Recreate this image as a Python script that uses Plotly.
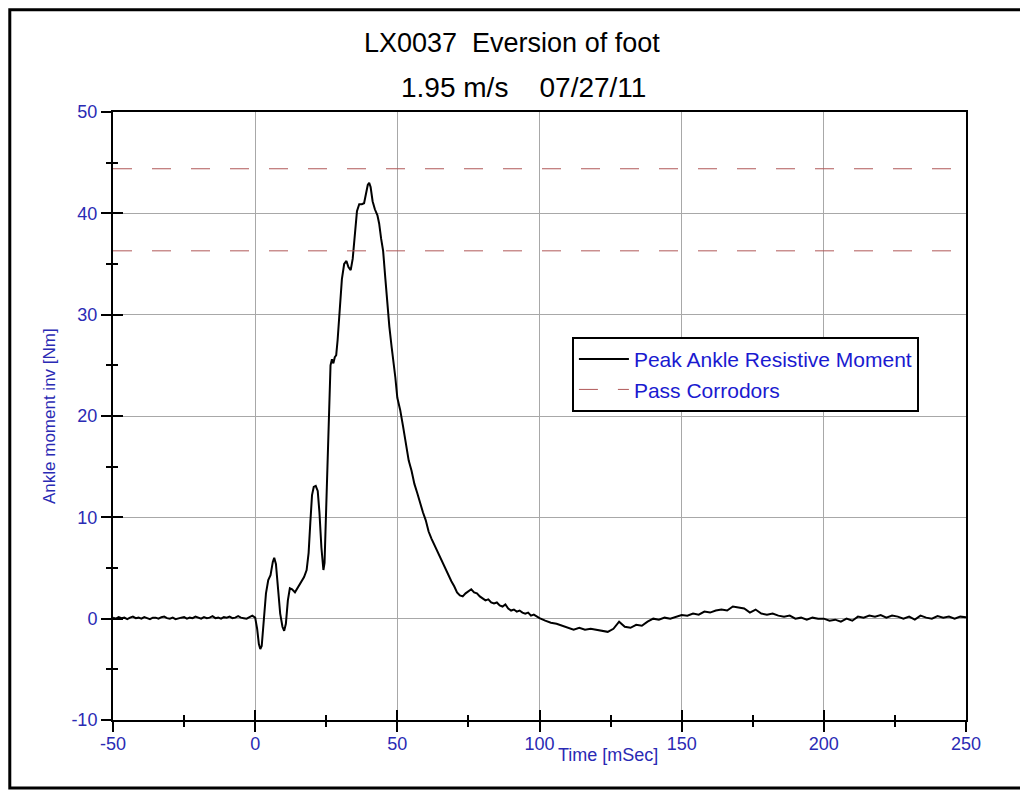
import plotly.graph_objects as go

# time axis [ms] and ankle moment [Nm]
pre_t = [-50, -49, -48, -47, -46, -45, -44, -43, -42, -41, -40, -39, -38, -37, -36, -35, -34,
         -33, -32, -31, -30, -29, -28, -27, -26, -25, -24, -23, -22, -21, -20, -19, -18, -17,
         -16, -15, -14, -13, -12, -11, -10, -9, -8, -7, -6, -5, -4, -3, -2, -1, 0]
pre_y = [0.1, 0.0, 0.15, 0.05, 0.1, -0.05, 0.1, 0.2, 0.05, 0.1, 0.0, 0.15, 0.05, -0.05, 0.1,
         0.1, 0.0, 0.15, 0.2, 0.05, 0.0, 0.1, -0.05, 0.05, 0.1, 0.15, 0.0, 0.1, 0.05, 0.2, 0.1,
         0.0, 0.15, 0.05, 0.1, 0.25, 0.05, 0.1, 0.0, 0.15, 0.1, 0.2, 0.05, 0.1, 0.25, 0.1, 0.05,
         0.0, 0.15, 0.3, 0.1]

impact_t = [0.7, 1.3, 1.8, 2.3, 3.0, 3.8, 4.6, 5.4, 6.2, 6.7, 7.3, 8.0, 8.8, 9.6, 10.2, 10.8,
            11.5, 12.2, 13.0, 14.0, 15.0, 16.2, 17.2, 18.1, 18.8, 19.4, 20.0, 20.6, 21.3, 22.0,
            22.6, 23.3, 24.0, 24.4, 25.0, 25.5, 26.0, 26.5, 27.0, 27.5, 28.0, 28.5, 29.0, 29.8,
            30.5, 31.3, 32.1, 32.8, 33.6, 34.3, 35.0, 35.8, 36.6, 37.5, 38.3, 39.0, 39.6, 40.1,
            40.6, 41.3, 42.1, 43.0, 43.6, 44.3, 45.0, 45.8, 46.5, 47.2, 48.0, 48.6, 49.3, 50.0]
impact_y = [-1.0, -2.5, -3.0, -2.7, -0.5, 2.5, 3.8, 4.3, 5.6, 6.0, 5.4, 3.0, 0.5, -0.8, -1.2,
            -0.5, 1.8, 3.0, 2.9, 2.6, 3.1, 3.6, 4.1, 4.8, 6.5, 9.5, 12.2, 13.0, 13.1, 12.6, 10.5,
            7.0, 4.8, 5.5, 11.0, 17.0, 21.5, 25.0, 25.6, 25.2, 25.8, 26.0, 27.5, 30.5, 33.5,
            35.0, 35.3, 34.7, 34.4, 35.5, 38.0, 40.2, 40.9, 40.9, 41.0, 42.2, 42.8, 43.0, 42.6,
            41.2, 40.4, 39.8, 39.0, 37.5, 36.3, 33.5, 31.0, 28.8, 26.8, 25.6, 23.8, 21.8]

decay_t = [51, 52, 53, 54, 55, 56, 57, 58, 59, 60, 61, 62, 63, 64, 65, 66, 67, 68, 69, 70, 71,
           72, 73, 74, 75, 76, 77, 78, 79, 80, 81, 82, 83, 84, 85, 86, 87, 88, 89, 90, 91, 92,
           93, 94, 95, 96, 97, 98, 99, 100]
decay_y = [20.6, 19.0, 17.3, 15.6, 14.6, 13.3, 12.4, 11.4, 10.5, 9.7, 8.6, 7.9, 7.3, 6.6, 6.0,
           5.5, 4.8, 4.3, 3.7, 3.2, 2.6, 2.3, 2.2, 2.5, 2.7, 2.9, 2.6, 2.5, 2.2, 2.0, 1.8, 1.9,
           1.6, 1.5, 1.6, 1.3, 1.2, 1.4, 1.0, 0.8, 0.9, 0.7, 0.8, 0.6, 0.5, 0.6, 0.3, 0.4, 0.2,
           0.05]

tail_t = [102, 104, 106, 108, 110, 112, 114, 116, 118, 120, 122, 124, 126, 128, 130, 132, 134,
          136, 138, 140, 142, 144, 146, 148, 150, 152, 154, 156, 158, 160, 162, 164, 166, 168,
          170, 172, 174, 176, 178, 180, 182, 184, 186, 188, 190, 192, 194, 196, 198, 200, 202,
          204, 206, 208, 210, 212, 214, 216, 218, 220, 222, 224, 226, 228, 230, 232, 234, 236,
          238, 240, 242, 244, 246, 248, 250]
tail_y = [-0.2, -0.4, -0.5, -0.7, -0.9, -1.1, -0.9, -1.1, -1.0, -1.1, -1.2, -1.3, -1.0, -0.3,
          -0.8, -0.9, -0.6, -0.7, -0.3, 0.0, -0.1, 0.1, 0.0, 0.2, 0.35, 0.3, 0.5, 0.4, 0.7, 0.6,
          0.8, 0.9, 0.8, 1.2, 1.1, 1.0, 0.6, 0.9, 0.5, 0.4, 0.5, 0.3, 0.2, 0.3, 0.0, 0.1, -0.1,
          0.1, 0.0, 0.0, -0.2, -0.1, -0.3, 0.0, -0.2, 0.2, 0.1, 0.3, 0.2, 0.35, 0.1, 0.3, 0.2,
          0.0, 0.2, -0.1, 0.3, 0.1, 0.0, 0.25, 0.1, 0.2, 0.0, 0.2, 0.15]

corridor_t = [-50, 250]
corridor_hi = [44.4, 44.4]
corridor_lo = [36.3, 36.3]

x_ticks = [-50, 0, 50, 100, 150, 200, 250]
x_minor = [-25, 25, 75, 125, 175, 225]
y_ticks = [-10, 0, 10, 20, 30, 40, 50]
y_minor = [-5, 5, 15, 25, 35, 45]

time = pre_t + impact_t + decay_t + tail_t
moment = pre_y + impact_y + decay_y + tail_y

FONT = "Liberation Sans, Arial, sans-serif"
BLUE = "#2a2ab4"
DASH = "#b05858"

fig = go.Figure()
fig.add_trace(go.Scatter(x=time, y=moment, mode="lines", name="Peak Ankle Resistive Moment",
                         line=dict(color="black", width=2)))
fig.add_trace(go.Scatter(x=corridor_t, y=corridor_hi, mode="lines", name="Pass Corrodors",
                         xaxis="x2", yaxis="y2",
                         line=dict(color=DASH, width=1, dash="19px,20px")))
fig.add_trace(go.Scatter(x=corridor_t, y=corridor_lo, mode="lines", showlegend=False,
                         xaxis="x2", yaxis="y2",
                         line=dict(color=DASH, width=1, dash="19px,20px")))

axis_common = dict(showline=True, linecolor="black", linewidth=2, mirror=True,
                   gridcolor="#a8a8a8", gridwidth=1, zeroline=False,
                   ticks="outside", ticklen=10, tickwidth=2, tickcolor="black",
                   tickfont=dict(family=FONT, size=18, color=BLUE))
inner_common = dict(showgrid=False, zeroline=False, ticks="inside", ticklen=10,
                    tickwidth=2, tickcolor="black", showticklabels=False)

# the page body has an 8px margin, so the figure is drawn 8px short of the window
fig.update_layout(
    width=1020, height=783,
    paper_bgcolor="white", plot_bgcolor="white",
    margin=dict(l=105, r=62, t=104, b=71),
    font=dict(family=FONT, color=BLUE),
    xaxis=dict(range=[-50, 250], tickvals=x_ticks, ticktext=[str(v) for v in x_ticks],
               ticklabelstandoff=-4,
               minor=dict(tickvals=x_minor, ticks="outside", ticklen=5, tickwidth=2,
                          tickcolor="black"),
               **axis_common),
    yaxis=dict(range=[-10, 50], tickvals=y_ticks, ticktext=[str(v) for v in y_ticks],
               minor=dict(tickvals=y_minor, ticks="outside", ticklen=5, tickwidth=2,
                          tickcolor="black"),
               **axis_common),
    xaxis2=dict(overlaying="x", matches="x", range=[-50, 250], tickvals=x_ticks,
                minor=dict(tickvals=x_minor, ticks="inside", ticklen=5, tickwidth=2,
                           tickcolor="black"),
                **inner_common),
    yaxis2=dict(overlaying="y", matches="y", range=[-10, 50], tickvals=y_ticks,
                minor=dict(tickvals=y_minor, ticks="inside", ticklen=5, tickwidth=2,
                           tickcolor="black"),
                **inner_common),
    legend=dict(x=0.538, y=0.63, xanchor="left", yanchor="top",
                bgcolor="white", bordercolor="black", borderwidth=2,
                font=dict(family=FONT, size=21, color="#1a1ad0"),
                itemwidth=50, tracegroupgap=0),
    showlegend=True,
)

fig.add_annotation(text="LX0037\u00a0\u00a0Eversion of foot", xref="paper", yref="paper",
                   x=0.4678, y=1.1135, xanchor="center", yanchor="middle", showarrow=False,
                   font=dict(family=FONT, size=27, color="black"))
fig.add_annotation(text="1.95 m/s\u00a0\u00a0\u00a0\u00a007/27/11", xref="paper", yref="paper",
                   x=0.4818, y=1.041, xanchor="center", yanchor="middle", showarrow=False,
                   font=dict(family=FONT, size=28, color="black"))
fig.add_annotation(text="Time [mSec]", xref="paper", yref="paper",
                   x=0.580, y=-0.0576, xanchor="center", yanchor="middle", showarrow=False,
                   font=dict(family=FONT, size=18, color=BLUE))
fig.add_annotation(text="Ankle moment inv [Nm]", xref="paper", yref="paper", textangle=-90,
                   x=-0.075, y=0.5, xanchor="center", yanchor="middle", showarrow=False,
                   font=dict(family=FONT, size=17, color=BLUE))

# outer frame around the whole picture
fig.add_shape(type="rect", xref="paper", yref="paper", x0=-0.121, x1=1.0703, y0=-0.1118,
              y1=1.168, line=dict(color="black", width=3), layer="below")

fig.write_html("out.html")
